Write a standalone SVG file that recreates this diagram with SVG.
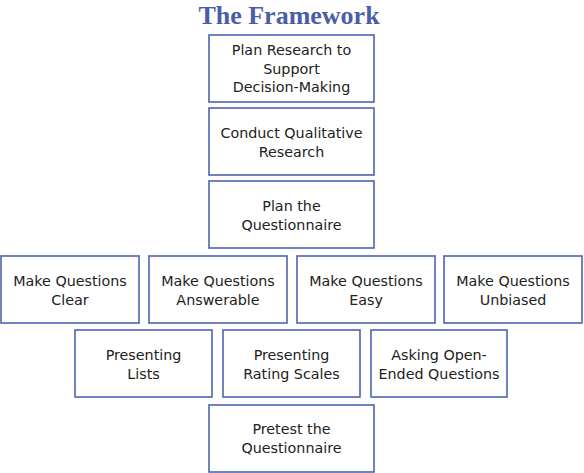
<svg xmlns="http://www.w3.org/2000/svg" width="584" height="473" viewBox="0 0 584 473">
<style>
.box{fill:#ffffff;stroke:#4a64b0;stroke-width:1.6}
.t{font-family:"DejaVu Sans",sans-serif;font-size:14.3px;fill:#222222;text-anchor:middle}
.title{font-family:"Liberation Serif",serif;font-weight:bold;font-size:26px;fill:#4a5ea8;text-anchor:middle}
</style>
<rect width="584" height="473" fill="#ffffff"/>
<text class="title" x="289" y="23.5">The Framework</text>
<g id="n1"><rect class="box" x="209" y="35" width="165" height="67"/><text class="t" x="291.5" y="55">Plan Research to</text><text class="t" x="291.5" y="73.5">Support</text><text class="t" x="291.5" y="92">Decision-Making</text></g>
<g id="n2"><rect class="box" x="209" y="108" width="165" height="67"/><text class="t" x="291.5" y="138">Conduct Qualitative</text><text class="t" x="291.5" y="156.5">Research</text></g>
<g id="n3"><rect class="box" x="209" y="181" width="165" height="67"/><text class="t" x="291.5" y="211">Plan the</text><text class="t" x="291.5" y="229.5">Questionnaire</text></g>
<g id="n4"><rect class="box" x="1" y="256" width="138" height="67"/><text class="t" x="70" y="286">Make Questions</text><text class="t" x="70" y="304.5">Clear</text></g>
<g id="n5"><rect class="box" x="149" y="256" width="138" height="67"/><text class="t" x="218" y="286">Make Questions</text><text class="t" x="218" y="304.5">Answerable</text></g>
<g id="n6"><rect class="box" x="297" y="256" width="138" height="67"/><text class="t" x="366" y="286">Make Questions</text><text class="t" x="366" y="304.5">Easy</text></g>
<g id="n7"><rect class="box" x="444" y="256" width="138" height="67"/><text class="t" x="513" y="286">Make Questions</text><text class="t" x="513" y="304.5">Unbiased</text></g>
<g id="n8"><rect class="box" x="75" y="330" width="137" height="67"/><text class="t" x="143.5" y="360">Presenting</text><text class="t" x="143.5" y="378.5">Lists</text></g>
<g id="n9"><rect class="box" x="223" y="330" width="137" height="67"/><text class="t" x="291.5" y="360">Presenting</text><text class="t" x="291.5" y="378.5">Rating Scales</text></g>
<g id="n10"><rect class="box" x="371" y="330" width="136" height="67"/><text class="t" x="439" y="360">Asking Open-</text><text class="t" x="439" y="378.5">Ended Questions</text></g>
<g id="n11"><rect class="box" x="209" y="405" width="165" height="67"/><text class="t" x="291.5" y="434">Pretest the</text><text class="t" x="291.5" y="452.5">Questionnaire</text></g>
<g id="connectors"></g>
</svg>
